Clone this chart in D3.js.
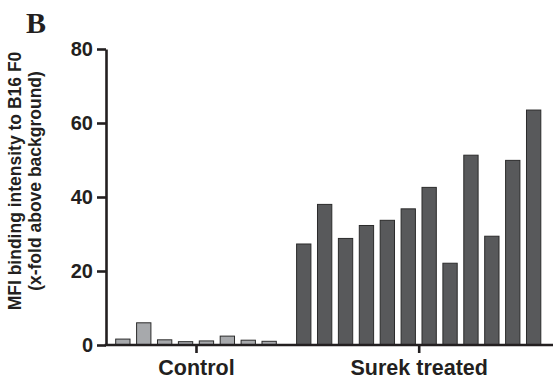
<!DOCTYPE html>
<html>
<head>
  <meta charset="utf-8">
  <title>MFI binding intensity</title>
  <style>
    body { margin: 0; background: #fff; }
    text { font-family: "Liberation Sans", Arial, sans-serif; font-weight: bold; fill: #231f20; }
  </style>
</head>
<body>
  <svg width="553" height="380"></svg>
  <script src="https://cdn.jsdelivr.net/npm/d3@7/dist/d3.min.js"></script>
  <script>
  // data
  var groups = ["Control", "Surek treated"];
  var controlValues = [1.6, 6.0, 1.4, 0.9, 1.1, 2.4, 1.3, 1.0];
  var surekValues = [27.3, 38.0, 28.8, 32.3, 33.7, 36.8, 42.6, 22.1, 51.3, 29.4, 49.9, 63.5];
  var yTicks = [0, 20, 40, 60, 80];
  var groupColors = ["#a7a9ac", "#58595b"];

  var svg = d3.select("svg");
  var axisColor = "#231f20";

  // plot box (px)
  var plotLeft = 106, plotRight = 553, plotTop = 49, plotBottom = 345;
  var barStep = 20.9;

  var y = d3.scaleLinear().domain([0, 80]).range([plotBottom, plotTop]);
  var gx = d3.scalePoint().domain(groups).range([196, 418.7]);

  var series = [controlValues, surekValues];

  // bars
  series.forEach(function(vals, gi) {
    var c = gx(groups[gi]);
    var half = vals.length * barStep / 2;
    var xb = d3.scaleBand()
      .domain(d3.range(vals.length))
      .range([c - half, c + half])
      .paddingInner(0.315)
      .paddingOuter(0.1575);

    svg.append("g")
      .selectAll("rect")
      .data(vals)
      .enter()
      .append("rect")
      .attr("x", function(d, i) { return xb(i); })
      .attr("y", function(d) { return y(d); })
      .attr("width", xb.bandwidth())
      .attr("height", function(d) { return y(0) - y(d); })
      .attr("fill", groupColors[gi])
      .attr("stroke", "#2b2b2b")
      .attr("stroke-width", 1);
  });

  // y axis
  var yAxis = svg.append("g")
    .attr("transform", "translate(" + plotLeft + ",0)")
    .call(d3.axisLeft(y).tickValues(yTicks).tickSize(9).tickSizeOuter(0).tickPadding(4));
  yAxis.select(".domain").attr("stroke", axisColor).attr("stroke-width", 2.6);
  yAxis.selectAll(".tick line").attr("stroke", axisColor).attr("stroke-width", 2.6);
  yAxis.selectAll(".tick text")
    .attr("font-size", 20)
    .attr("font-family", "Liberation Sans, Arial, sans-serif")
    .attr("font-weight", "bold")
    .attr("fill", axisColor);

  // x axis
  var xAxis = svg.append("g")
    .attr("transform", "translate(0," + y(0) + ")")
    .call(d3.axisBottom(gx).tickSize(8).tickSizeOuter(0).tickPadding(7));
  xAxis.select(".domain").remove();
  xAxis.insert("line", ":first-child")
    .attr("x1", plotLeft - 1.3).attr("x2", plotRight)
    .attr("stroke", axisColor).attr("stroke-width", 2.6);
  xAxis.selectAll(".tick line").attr("stroke", axisColor).attr("stroke-width", 2.6);
  xAxis.selectAll(".tick text")
    .attr("font-size", 21.5)
    .attr("font-family", "Liberation Sans, Arial, sans-serif")
    .attr("font-weight", "bold")
    .attr("fill", axisColor);

  // y label
  var yl = svg.append("text")
    .attr("transform", "translate(21,181) rotate(-90)")
    .attr("text-anchor", "middle")
    .attr("font-size", 17.5);
  yl.append("tspan").attr("x", 0).attr("y", 0).text("MFI binding intensity to B16 F0");
  yl.append("tspan").attr("x", 0).attr("y", 20).text("(x-fold above background)");

  // panel letter
  svg.append("text")
    .attr("x", 26)
    .attr("y", 33)
    .attr("font-size", 30)
    .style("font-family", "Liberation Serif, serif")
    .text("B");
  </script>
</body>
</html>
